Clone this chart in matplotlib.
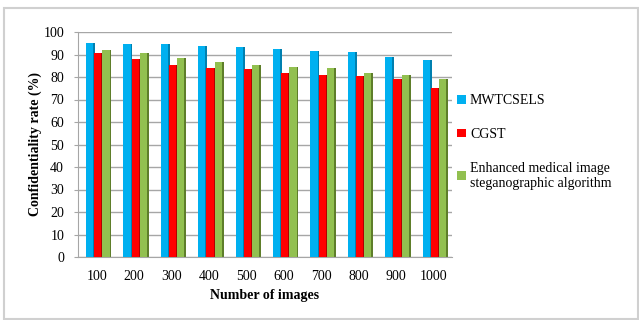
import matplotlib.pyplot as plt
import matplotlib.patches as patches
import numpy as np

plt.rcParams['font.family'] = ['Liberation Serif', 'DejaVu Serif']

# confidentiality rate for each number of images
images = ['100', '200', '300', '400', '500', '600', '700', '800', '900', '1000']
mwtcsels = [95, 94.5, 94.5, 94, 93.5, 92.5, 91.5, 91, 89, 87.5]
cgst = [90.5, 88, 85.5, 84, 83.5, 82, 81, 80.5, 79, 75]
enhanced = [92, 90.5, 88.5, 86.5, 85.5, 84.5, 84, 82, 81, 79]

names = ['MWTCSELS', 'CGST', 'Enhanced medical image\nsteganographic algorithm']
colors = ['#00B0F0', '#FF0000', '#92C050']
sides = ['#0080B0', '#B00000', '#5E7E2A']

fig = plt.figure(figsize=(6.39, 3.2), dpi=100)
ax = fig.add_axes([78 / 639, 1 - 257 / 320, (452 - 78) / 639, (257 - 32) / 320])

x = np.arange(len(images))
w = 0.19
offs = [-0.19, 0.03, 0.25]
series = [mwtcsels, cgst, enhanced]

# gridlines drawn first so the bars sit in front
ax.set_ylim(0, 100)
ax.set_xlim(-0.5, len(images) - 0.5)
ax.set_yticks(range(0, 101, 10))
ax.yaxis.grid(True, color='#A6A6A6', linewidth=1.0)
ax.set_axisbelow(True)

# darker side strips to give the bars some depth
for vals, off, sc in zip(series, offs, sides):
    ax.bar(x + off + w / 2 + 0.025, vals, width=0.05, color=sc, zorder=2)
for vals, off, c, name in zip(series, offs, colors, names):
    ax.bar(x + off, vals, width=w, color=c, zorder=3, label=name)

for s in ['top', 'right']:
    ax.spines[s].set_visible(False)
ax.spines['left'].set_color('#A6A6A6')
ax.spines['bottom'].set_color('#A6A6A6')

ax.set_xticks(x)
ax.set_xticklabels(images)
ax.tick_params(axis='both', labelsize=10, colors='#A6A6A6', labelcolor='black', length=3)
ax.tick_params(axis='x', length=0, pad=9)
ax.tick_params(axis='y', pad=7)

ax.set_xlabel('Number of images', fontsize=10, fontweight='bold', labelpad=5)
ax.set_ylabel('Confidentiality rate (%)', fontsize=10, fontweight='bold', labelpad=1)

leg = ax.legend(loc='upper left', bbox_to_anchor=(0.981, 0.78), frameon=False,
                fontsize=10, handlelength=0.6, handleheight=0.6, handletextpad=0.3,
                labelspacing=1.5)

# light frame around the whole chart
fig.patches.append(patches.Rectangle((4 / 639, 1 / 320), 634 / 639, 311 / 320,
                                     transform=fig.transFigure, fill=False,
                                     edgecolor='#D0D0D0', linewidth=1.5))

fig.savefig('out.png', dpi=100)
